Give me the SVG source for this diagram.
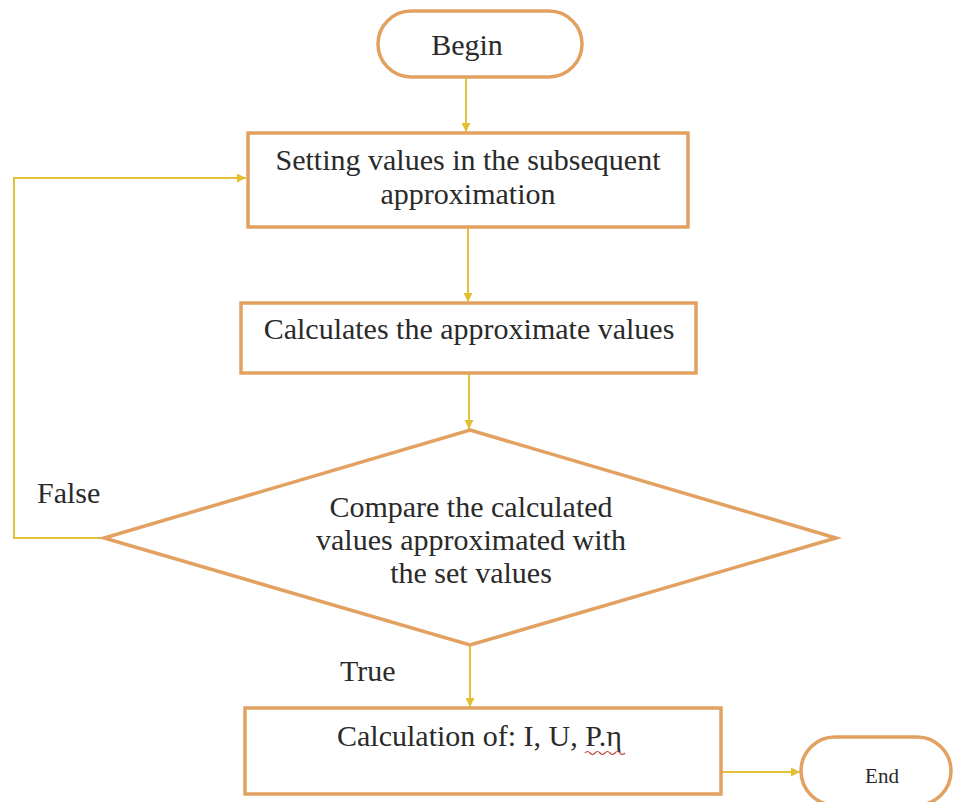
<svg xmlns="http://www.w3.org/2000/svg" width="955" height="802" viewBox="0 0 955 802">
  <defs>
    <style>
      .node { fill: #ffffff; stroke: #E2A160; stroke-width: 3.5; }
      .link { fill: none; stroke: #E3C13B; stroke-width: 2; }
      .label { font-family: "Liberation Serif", "Times New Roman", serif; font-size: 30px; fill: #2a2a2a; }
      .mid { text-anchor: middle; }
      .small { font-size: 21px; }
    </style>
    <marker id="arrow" viewBox="0 0 10 10" refX="10" refY="5" markerWidth="9" markerHeight="9" markerUnits="userSpaceOnUse" orient="auto">
      <path d="M0,0 L10,5 L0,10 Z" fill="#E3BE2E"/>
    </marker>
  </defs>

  <rect width="955" height="802" fill="#ffffff"/>

  <!-- connectors -->
  <g id="connectors">
    <line class="link" x1="466" y1="78" x2="466" y2="132" marker-end="url(#arrow)"/>
    <line class="link" x1="468" y1="227" x2="468" y2="302" marker-end="url(#arrow)"/>
    <line class="link" x1="469" y1="373" x2="469" y2="429" marker-end="url(#arrow)"/>
    <line class="link" x1="470" y1="645" x2="470" y2="707" marker-end="url(#arrow)"/>
    <polyline class="link" points="104,538 14,538 14,178 246,178" marker-end="url(#arrow)"/>
    <line class="link" x1="721" y1="772" x2="800" y2="772" marker-end="url(#arrow)"/>
  </g>

  <!-- start terminal -->
  <g id="begin">
    <rect class="node" x="378" y="11" width="204" height="66" rx="33" ry="33"/>
    <text class="label mid" x="467" y="55">Begin</text>
  </g>

  <!-- setting values -->
  <g id="set-values">
    <rect class="node" x="248" y="133" width="440" height="94"/>
    <text class="label mid" x="468" y="170">Setting values in the subsequent</text>
    <text class="label mid" x="468" y="204">approximation</text>
  </g>

  <!-- approximate calculation -->
  <g id="calc-approx">
    <rect class="node" x="241" y="303" width="455" height="70"/>
    <text class="label mid" x="469" y="339">Calculates the approximate values</text>
  </g>

  <!-- comparison decision -->
  <g id="compare">
    <polygon class="node" points="470,430 836,538 470,645 104,538"/>
    <text class="label mid" x="471" y="517">Compare the calculated</text>
    <text class="label mid" x="471" y="550">values approximated with</text>
    <text class="label mid" x="471" y="583">the set values</text>
  </g>

  <!-- branch labels -->
  <g id="branch-labels">
    <text class="label" x="37" y="503">False</text>
    <text class="label" x="340" y="681">True</text>
  </g>

  <!-- final calculation -->
  <g id="calc-final">
    <rect class="node" x="245" y="708" width="476" height="86"/>
    <text class="label" x="337" y="746">Calculation of: I, U, P.η</text>
    <path d="M585,753 q2.5,-3 5,0 t5,0 t5,0 t5,0 t5,0 t5,0 t5,0 t5,0" fill="none" stroke="#C2463F" stroke-width="1.2"/>
  </g>

  <!-- end terminal -->
  <g id="end">
    <rect class="node" x="801" y="737" width="150" height="68" rx="34" ry="34"/>
    <text class="label mid small" x="882" y="783">End</text>
  </g>
</svg>
